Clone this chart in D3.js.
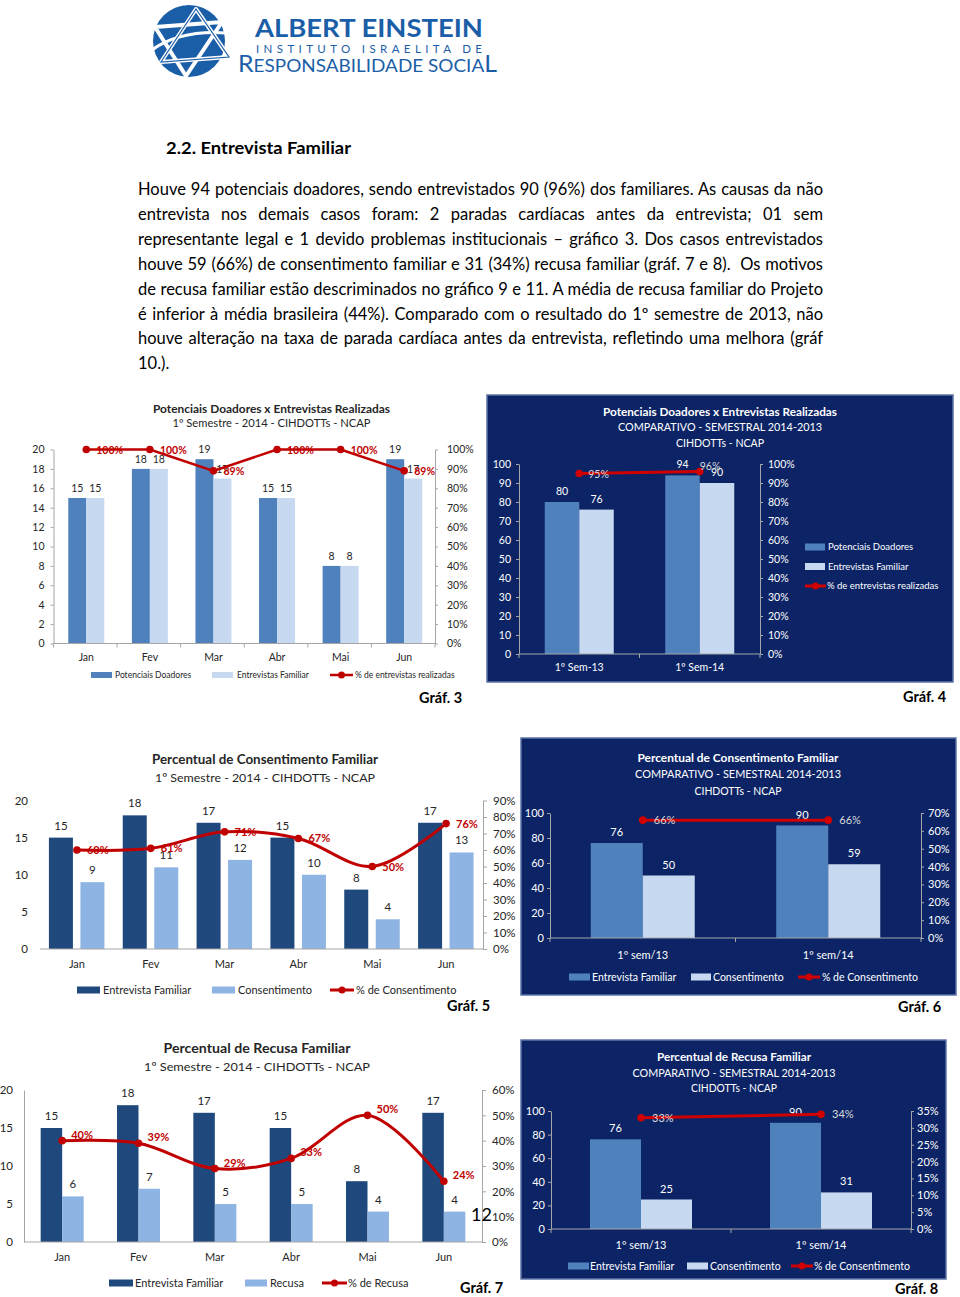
<!DOCTYPE html>
<html><head><meta charset="utf-8">
<script src="https://cdn.jsdelivr.net/npm/d3@7"></script>
<style>
body{margin:0;background:#fff}
svg{display:block}
text{font-family:Lato,"Open Sans","Liberation Sans",sans-serif}
</style>
</head><body>
<svg id="page" width="960" height="1297"></svg>
<script>
// ---------------- DATA ----------------
const months = ["Jan","Fev","Mar","Abr","Mai","Jun"];

const g3Potenciais = [15,18,19,15,8,19];
const g3Entrevistas = [15,18,17,15,8,17];
const g3Pct = [100,100,89,100,100,89];
const g3LeftTicks = [0,2,4,6,8,10,12,14,16,18,20];
const g3RightTicks = [0,10,20,30,40,50,60,70,80,90,100];

const g4Cats = ["1º Sem-13","1º Sem-14"];
const g4Potenciais = [80,94];
const g4Entrevistas = [76,90];
const g4Pct = [95,96];
const g4LeftTicks = [0,10,20,30,40,50,60,70,80,90,100];
const g4RightTicks = [0,10,20,30,40,50,60,70,80,90,100];

const g5Entrevista = [15,18,17,15,8,17];
const g5Consentimento = [9,11,12,10,4,13];
const g5Pct = [60,61,71,67,50,76];
const g5LeftTicks = [0,5,10,15,20];
const g5RightTicks = [0,10,20,30,40,50,60,70,80,90];

const g6Cats = ["1º sem/13","1º sem/14"];
const g6Entrevista = [76,90];
const g6Consentimento = [50,59];
const g6Pct = [66,66];
const g6LeftTicks = [0,20,40,60,80,100];
const g6RightTicks = [0,10,20,30,40,50,60,70];

const g7Entrevista = [15,18,17,15,8,17];
const g7Recusa = [6,7,5,5,4,4];
const g7Pct = [40,39,29,33,50,24];
const g7LeftTicks = [0,5,10,15,20];
const g7RightTicks = [0,10,20,30,40,50,60];

const g8Cats = ["1º sem/13","1º sem/14"];
const g8Entrevista = [76,90];
const g8Consentimento = [25,31];
const g8Pct = [33,34];
const g8LeftTicks = [0,20,40,60,80,100];
const g8RightTicks = [0,5,10,15,20,25,30,35];

const heading = "2.2. Entrevista Familiar";
const paragraphLines = [
 "Houve 94 potenciais doadores, sendo entrevistados 90 (96%) dos familiares. As causas da não",
 "entrevista nos demais casos foram: 2 paradas cardíacas antes da entrevista; 01 sem",
 "representante legal e 1 devido problemas institucionais – gráfico 3. Dos casos entrevistados",
 "houve 59 (66%) de consentimento familiar e 31 (34%) recusa familiar (gráf. 7 e 8).  Os motivos",
 "de recusa familiar estão descriminados no gráfico 9 e 11. A média de recusa familiar do Projeto",
 "é inferior à média brasileira (44%). Comparado com o resultado do 1º semestre de 2013, não",
 "houve alteração na taxa de parada cardíaca antes da entrevista, refletindo uma melhora (gráf",
 "10.)."
];

// ---------------- DRAWING ----------------
const svg = d3.select("#page");
const RED = "#c00000";

function drawLogo(){
  const g = svg.append("g");
  g.append("circle").attr("cx",189).attr("cy",41).attr("r",36).attr("fill","#1b5ea8");
  const tri = d3.line().curve(d3.curveLinearClosed);
  g.append("path").attr("d",tri([[196,9],[161,62],[229,57]]))
    .attr("fill","none").attr("stroke","#fff").attr("stroke-width",4).attr("stroke-linejoin","round");
  g.append("path").attr("d",tri([[155,27],[222,22],[186,76]]))
    .attr("fill","none").attr("stroke","#fff").attr("stroke-width",4).attr("stroke-linejoin","round");
  g.append("path").attr("d","M152,50 Q180,30 226,33").attr("fill","none")
    .attr("stroke","#fff").attr("stroke-width",3);
  g.append("path").attr("d",tri([[196,9],[161,62],[229,57]]))
    .attr("fill","none").attr("stroke","#1b5ea8").attr("stroke-width",1.2);
  g.append("text").attr("x",255).attr("y",37).attr("font-size",25).attr("font-weight","bold")
    .attr("fill","#1b5ea8").attr("textLength",228).attr("lengthAdjust","spacingAndGlyphs").text("ALBERT EINSTEIN");
  g.append("text").attr("x",256).attr("y",53).attr("font-size",11.5)
    .attr("fill","#1b5ea8").attr("textLength",226).attr("lengthAdjust","spacing").text("INSTITUTO ISRAELITA DE");
  const t = g.append("text").attr("x",238).attr("y",72).attr("fill","#1b5ea8")
    .attr("textLength",259).attr("lengthAdjust","spacingAndGlyphs");
  t.append("tspan").attr("font-size",23).text("R");
  t.append("tspan").attr("font-size",17.5).text("ESPONSABILIDADE SOCIA");
  t.append("tspan").attr("font-size",23).text("L");
}

function drawText(){
  svg.append("text").attr("x",166).attr("y",154).attr("font-size",17).attr("font-weight","bold")
    .attr("fill","#000").attr("textLength",185).attr("lengthAdjust","spacingAndGlyphs").text(heading);
  paragraphLines.forEach((line,i)=>{
    const t = svg.append("text").attr("x",138).attr("y",195+i*24.9)
      .attr("font-size",16.5).attr("fill","#000").attr("xml:space","preserve").text(line);
    if(i < paragraphLines.length-1){
      const w = t.node().getComputedTextLength();
      const spaces = (line.match(/ /g)||[]).length;
      const target = 685;
      if (w < target) t.attr("word-spacing",(target-w)/spaces);
      else t.attr("textLength",target).attr("lengthAdjust","spacingAndGlyphs");
    }
  });
}

function drawCombo(c){
  const g = svg.append("g");
  if(c.panel){
    g.append("rect").attr("x",c.panel[0]).attr("y",c.panel[1])
      .attr("width",c.panel[2]-c.panel[0]).attr("height",c.panel[3]-c.panel[1])
      .attr("fill","#0c2466").attr("stroke","#5d74a8").attr("stroke-width",1.5);
  }
  c.titles.forEach(t=>{
    g.append("text").attr("x",c.titleX).attr("y",t.y).attr("text-anchor","middle")
      .attr("font-size",t.size).attr("font-weight",t.bold?"bold":"normal")
      .attr("fill",c.textColor).attr("textLength",t.w).attr("lengthAdjust","spacingAndGlyphs").text(t.text);
  });
  const x = d3.scaleBand().domain(c.cats).range([c.x0,c.x1]);
  const yL = d3.scaleLinear().domain([0,c.leftMax]).range([c.yBot,c.yTop]);
  const yR = d3.scaleLinear().domain([0,c.rightMax]).range([c.yBot,c.yTop]);
  const cx = d => x(d)+x.bandwidth()/2 + (c.centerShift||0);

  // bars
  c.series.forEach(s=>{
    g.selectAll(null).data(s.values).join("rect")
      .attr("x",(v,i)=>cx(c.cats[i])+s.off).attr("y",v=>yL(v))
      .attr("width",c.barW).attr("height",v=>yL(0)-yL(v)).attr("fill",s.color);
  });

  // left axis
  const la = g.append("g").attr("transform",`translate(${c.x0},0)`)
    .call(d3.axisLeft(yL).tickValues(c.leftTicks).tickSize(c.leftTickSize).tickSizeOuter(0).tickPadding(c.leftPad));
  la.selectAll("text").attr("font-size",c.tickFont).attr("fill",c.textColor);
  la.selectAll("line").attr("stroke",c.axisColor);
  la.select(".domain").attr("stroke",c.axisColor).attr("opacity",c.leftAxisLine?1:0);
  if(!c.leftAxisLine) la.selectAll("line").remove();
  la.attr("font-family",null);

  // right axis
  const ra = g.append("g").attr("transform",`translate(${c.x1},0)`)
    .call(d3.axisRight(yR).tickValues(c.rightTicks).tickSize(c.rightTickSize).tickSizeOuter(0)
      .tickPadding(c.rightPad).tickFormat(d=>d+"%"));
  ra.selectAll("text").attr("font-size",c.tickFont).attr("fill",c.textColor);
  ra.selectAll("line").attr("stroke",c.axisColor);
  ra.select(".domain").attr("stroke",c.axisColor);
  ra.attr("font-family",null);

  // bottom axis
  const ba = g.append("g").attr("transform",`translate(0,${c.yBot})`)
    .call(d3.axisBottom(x).tickSize(0).tickSizeOuter(0).tickPadding(c.catPad));
  ba.select(".domain").attr("stroke",c.axisColor).attr("d",`M${c.x0},0H${c.x1}`);
  ba.selectAll("text").attr("font-size",c.catFont).attr("fill",c.textColor)
    .attr("transform",`translate(${c.centerShift||0},0)`);
  ba.attr("font-family",null);
  if(c.catTicks){
    const bounds = c.cats.map(d=>x(d)).concat([c.x1]);
    g.selectAll(null).data(bounds).join("line")
      .attr("x1",d=>d).attr("x2",d=>d).attr("y1",c.yBot).attr("y2",c.yBot+4).attr("stroke",c.axisColor);
  }

  // bar value labels
  c.series.forEach(s=>{
    g.selectAll(null).data(s.values).join("text")
      .attr("x",(v,i)=>cx(c.cats[i])+s.off+c.barW/2).attr("y",v=>yL(v)-c.valGap)
      .attr("text-anchor","middle").attr("font-size",c.valFont).attr("fill",c.textColor).text(v=>v);
  });

  // percentage line
  const pts = c.pct.map((v,i)=>[cx(c.cats[i]), yR(v)]);
  g.append("path").attr("d",d3.line().curve(c.curve)(pts)).attr("fill","none")
    .attr("stroke",c.lineColor).attr("stroke-width",c.lineW);
  g.selectAll(null).data(pts).join("circle").attr("cx",d=>d[0]).attr("cy",d=>d[1])
    .attr("r",3.8).attr("fill",c.lineColor);
  g.selectAll(null).data(c.pct).join("text")
    .attr("x",(v,i)=>pts[i][0]+(c.pctOff?c.pctOff[i][0]:c.pctDx))
    .attr("y",(v,i)=>pts[i][1]+(c.pctOff?c.pctOff[i][1]:c.pctDy))
    .attr("font-size",c.pctFont).attr("font-weight",c.pctBold?"bold":"normal")
    .attr("fill",c.pctColor).text(v=>v+"%");

  // legend
  c.legend.items.forEach(it=>{
    const y = it.y!==undefined ? it.y : c.legend.y;
    if(it.type==="rect"){
      g.append("rect").attr("x",it.x).attr("y",y-c.legend.rh/2).attr("width",it.w)
        .attr("height",c.legend.rh).attr("fill",it.color);
    } else {
      g.append("line").attr("x1",it.x).attr("x2",it.x+it.w).attr("y1",y).attr("y2",y)
        .attr("stroke",c.lineColor).attr("stroke-width",c.lineW);
      g.append("circle").attr("cx",it.x+it.w/2).attr("cy",y).attr("r",3.5).attr("fill",c.lineColor);
    }
    g.append("text").attr("x",it.tx).attr("y",y).attr("dy","0.35em")
      .attr("font-size",c.legend.font).attr("fill",c.textColor).text(it.label);
  });

  // Gráf label
  svg.append("text").attr("x",c.graf[0]).attr("y",c.graf[1]).attr("font-size",14.5)
    .attr("font-weight","bold").attr("fill","#000").text(c.graf[2]);
}

drawLogo();
drawText();

// Gráf 3
drawCombo({
  x0:53.5, x1:435, yTop:449.5, yBot:643.5, leftMax:20, rightMax:100,
  leftTicks:g3LeftTicks, rightTicks:g3RightTicks, cats:months, centerShift:1,
  series:[{values:g3Potenciais,color:"#4f81bd",off:-18},{values:g3Entrevistas,color:"#c6d9f1",off:0}],
  barW:18, pct:g3Pct, curve:d3.curveLinear, lineColor:RED, lineW:2.5,
  pctDx:10, pctDy:4, pctFont:10.5, pctBold:true, pctColor:RED,
  textColor:"#262626", axisColor:"#a6a6a6", tickFont:10.5, catFont:10.5, valFont:10.5, valGap:6,
  leftTickSize:3, leftPad:6, rightTickSize:3, rightPad:9, leftAxisLine:true, catTicks:true, catPad:10,
  titleX:271.5,
  titles:[{text:"Potenciais Doadores x Entrevistas Realizadas",y:413,size:11,bold:true,w:237},
          {text:"1º Semestre - 2014 - CIHDOTTs - NCAP",y:427,size:11,bold:false,w:198}],
  legend:{y:675,font:8.5,rh:6,items:[
    {type:"rect",x:91,w:21,color:"#4f81bd",tx:115,label:"Potenciais Doadores"},
    {type:"rect",x:212,w:21,color:"#c6d9f1",tx:237,label:"Entrevistas Familiar"},
    {type:"line",x:330,w:23,tx:355,label:"% de entrevistas realizadas"}]},
  graf:[419,703,"Gráf. 3"]
});

// Gráf 4
drawCombo({
  panel:[487,395,953,682],
  x0:519, x1:760, yTop:464, yBot:654, leftMax:100, rightMax:100,
  leftTicks:g4LeftTicks, rightTicks:g4RightTicks, cats:g4Cats,
  series:[{values:g4Potenciais,color:"#4f81bd",off:-34.5},{values:g4Entrevistas,color:"#c6d9f1",off:0}],
  barW:34.5, pct:g4Pct, curve:d3.curveLinear, lineColor:"#d00000", lineW:3,
  pctOff:[[9,4],[0,-2]], pctFont:10.5, pctBold:false, pctColor:"#d9d9d9",
  textColor:"#ffffff", axisColor:"#a6a6a6", tickFont:10.5, catFont:10.5, valFont:10.5, valGap:7,
  leftTickSize:3, leftPad:5, rightTickSize:3, rightPad:5, leftAxisLine:true, catTicks:true, catPad:10,
  titleX:720,
  titles:[{text:"Potenciais Doadores x Entrevistas Realizadas",y:416,size:12,bold:true,w:234},
          {text:"COMPARATIVO - SEMESTRAL 2014-2013",y:431,size:11.5,bold:false,w:204},
          {text:"CIHDOTTs - NCAP",y:447,size:11.5,bold:false,w:88}],
  legend:{font:9.5,rh:7,items:[
    {type:"rect",x:805,w:20,y:547,color:"#4f81bd",tx:828,label:"Potenciais Doadores"},
    {type:"rect",x:805,w:20,y:566.5,color:"#c6d9f1",tx:828,label:"Entrevistas Familiar"},
    {type:"line",x:805,w:21,y:586,tx:827,label:"% de entrevistas realizadas"}]},
  graf:[903,702,"Gráf. 4"]
});

// Gráf 5
drawCombo({
  x0:40, x1:483, yTop:800.5, yBot:949, leftMax:20, rightMax:90,
  leftTicks:g5LeftTicks, rightTicks:g5RightTicks, cats:months,
  series:[{values:g5Entrevista,color:"#1f497d",off:-28},{values:g5Consentimento,color:"#8db4e2",off:3.5}],
  barW:24, pct:g5Pct, curve:d3.curveCatmullRom, lineColor:RED, lineW:3,
  pctDx:10, pctDy:4, pctFont:11, pctBold:true, pctColor:RED,
  textColor:"#262626", axisColor:"#a6a6a6", tickFont:11.5, catFont:11, valFont:11.5, valGap:8,
  leftTickSize:0, leftPad:12, rightTickSize:4, rightPad:6, leftAxisLine:false, catTicks:false, catPad:11,
  titleX:265,
  titles:[{text:"Percentual de Consentimento  Familiar",y:764,size:12.5,bold:true,w:226},
          {text:"1º Semestre - 2014 - CIHDOTTs - NCAP",y:782,size:12,bold:false,w:220}],
  legend:{y:990,font:11,rh:7,items:[
    {type:"rect",x:77,w:23,color:"#1f497d",tx:103,label:"Entrevista Familiar"},
    {type:"rect",x:212,w:23,color:"#8db4e2",tx:238,label:"Consentimento"},
    {type:"line",x:330,w:24,tx:356,label:"% de Consentimento"}]},
  graf:[447,1011,"Gráf. 5"]
});

// Gráf 6
drawCombo({
  panel:[521,738,956,995],
  x0:550, x1:921, yTop:813, yBot:938, leftMax:100, rightMax:70,
  leftTicks:g6LeftTicks, rightTicks:g6RightTicks, cats:g6Cats,
  series:[{values:g6Entrevista,color:"#4f81bd",off:-52},{values:g6Consentimento,color:"#c6d9f1",off:0}],
  barW:52, pct:g6Pct, curve:d3.curveLinear, lineColor:"#d00000", lineW:3,
  pctDx:11, pctDy:4, pctFont:11, pctBold:false, pctColor:"#d9d9d9",
  textColor:"#ffffff", axisColor:"#a6a6a6", tickFont:11, catFont:11, valFont:11, valGap:7,
  leftTickSize:3, leftPad:3, rightTickSize:3, rightPad:4, leftAxisLine:true, catTicks:true, catPad:13,
  titleX:738,
  titles:[{text:"Percentual de Consentimento Familiar",y:762,size:12,bold:true,w:201},
          {text:"COMPARATIVO - SEMESTRAL 2014-2013",y:778,size:12,bold:false,w:206},
          {text:"CIHDOTTs - NCAP",y:795,size:12,bold:false,w:87}],
  legend:{y:977,font:10.5,rh:7,items:[
    {type:"rect",x:569,w:21,color:"#4f81bd",tx:592,label:"Entrevista Familiar"},
    {type:"rect",x:691,w:20,color:"#c6d9f1",tx:713,label:"Consentimento"},
    {type:"line",x:798,w:22,tx:822,label:"% de Consentimento"}]},
  graf:[898,1012,"Gráf. 6"]
});

// Gráf 7
drawCombo({
  x0:24, x1:482, yTop:1090, yBot:1242, leftMax:20, rightMax:60,
  leftTicks:g7LeftTicks, rightTicks:g7RightTicks, cats:months,
  series:[{values:g7Entrevista,color:"#1f497d",off:-21.5},{values:g7Recusa,color:"#8db4e2",off:0}],
  barW:21.5, pct:g7Pct, curve:d3.curveCatmullRom, lineColor:RED, lineW:3,
  pctDx:9, pctDy:-2, pctFont:11, pctBold:true, pctColor:RED,
  textColor:"#262626", axisColor:"#a6a6a6", tickFont:11.5, catFont:11, valFont:11.5, valGap:8,
  leftTickSize:0, leftPad:11, rightTickSize:4, rightPad:6, leftAxisLine:true, catTicks:false, catPad:11,
  titleX:257,
  titles:[{text:"Percentual de  Recusa  Familiar",y:1053,size:12.5,bold:true,w:187},
          {text:"1º Semestre - 2014 - CIHDOTTs - NCAP",y:1071,size:12,bold:false,w:226}],
  legend:{y:1283,font:11,rh:7,items:[
    {type:"rect",x:109,w:24,color:"#1f497d",tx:135,label:"Entrevista Familiar"},
    {type:"rect",x:245,w:22,color:"#8db4e2",tx:270,label:"Recusa"},
    {type:"line",x:322,w:25,tx:348,label:"% de Recusa"}]},
  graf:[460,1293,"Gráf. 7"]
});
svg.append("text").attr("x",471).attr("y",1221).attr("font-size",18).attr("fill","#000").text("12");

// Gráf 8
drawCombo({
  panel:[521,1040,946,1279],
  x0:551, x1:911, yTop:1111, yBot:1229, leftMax:100, rightMax:35,
  leftTicks:g8LeftTicks, rightTicks:g8RightTicks, cats:g8Cats,
  series:[{values:g8Entrevista,color:"#4f81bd",off:-51},{values:g8Consentimento,color:"#c6d9f1",off:0}],
  barW:51, pct:g8Pct, curve:d3.curveLinear, lineColor:"#d00000", lineW:3,
  pctDx:11, pctDy:4, pctFont:11, pctBold:false, pctColor:"#d9d9d9",
  textColor:"#ffffff", axisColor:"#a6a6a6", tickFont:11, catFont:11, valFont:11, valGap:7,
  leftTickSize:3, leftPad:3, rightTickSize:3, rightPad:3, leftAxisLine:true, catTicks:true, catPad:12,
  titleX:734,
  titles:[{text:"Percentual de Recusa Familiar",y:1061,size:12,bold:true,w:154},
          {text:"COMPARATIVO - SEMESTRAL 2014-2013",y:1077,size:12,bold:false,w:203},
          {text:"CIHDOTTs - NCAP",y:1092,size:12,bold:false,w:86}],
  legend:{y:1266,font:10.5,rh:7,items:[
    {type:"rect",x:568,w:21,color:"#4f81bd",tx:590,label:"Entrevista Familiar"},
    {type:"rect",x:687,w:21,color:"#c6d9f1",tx:710,label:"Consentimento"},
    {type:"line",x:791,w:22,tx:814,label:"% de Consentimento"}]},
  graf:[895,1294,"Gráf. 8"]
});
</script>
</body></html>
